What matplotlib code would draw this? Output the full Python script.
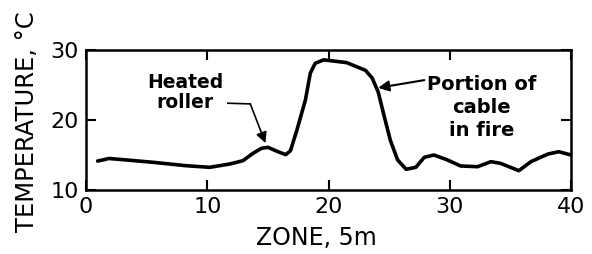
import matplotlib
matplotlib.use("Agg")
import matplotlib.pyplot as plt

zone = [0.96, 1.4, 1.87, 2.75, 5.5, 8.26, 10.2, 11.84, 12.95, 13.77, 14.46, 15.0, 15.84, 16.47, 16.86,
        17.4, 18.1, 18.5, 18.9, 19.6, 21.5, 23.05, 23.6, 24.1, 24.6, 25.1, 25.7, 26.4,
        27.2, 27.9, 28.7, 29.8, 30.9, 32.3, 33.4, 34.2, 35.7, 36.7, 38.1, 39.0, 40.0]
temp = [14.14, 14.3, 14.5, 14.38, 13.96, 13.47, 13.24, 13.71, 14.19, 15.24, 15.95, 16.1, 15.47, 15.05, 15.6,
        18.6, 22.9, 26.7, 28.1, 28.6, 28.2, 27.1, 26.0, 24.0, 20.5, 17.1, 14.3, 12.96,
        13.24, 14.67, 15.0, 14.3, 13.43, 13.33, 14.05, 13.8, 12.76, 14.05, 15.14, 15.47, 15.0]

xticks = [0, 10, 20, 30, 40]
yticks = [10, 20, 30]

plt.rcParams['font.family'] = ['DejaVu Sans']
fig = plt.figure(figsize=(5.92, 2.54), dpi=100)
ax = fig.add_axes([0.1453, 0.252, 0.8192, 0.551])
ax.plot(zone, temp, color='black', lw=2.6, solid_capstyle='round', solid_joinstyle='round')
ax.set_xlim(0, 40)
ax.set_ylim(10, 30)
ax.set_xticks(xticks)
ax.set_yticks(yticks)
ax.tick_params(direction='in', length=7, width=1.5, top=True, right=True, labelsize=16, pad=5)
for s in ax.spines.values():
    s.set_linewidth(1.8)
fig.text(0.534, 0.063, 'ZONE, 5m', fontsize=17, ha='center', va='center')
fig.text(0.045, 0.52, 'TEMPERATURE, °C', fontsize=17.5, rotation=90, ha='center', va='center')

ax.text(8.2, 23.9, 'Heated\nroller', ha='center', va='center', fontsize=13.5, fontweight='bold', linespacing=1.05)
ax.plot([11.7, 13.55], [22.4, 22.3], color='black', lw=1.2)
ax.annotate('', xy=(14.8, 16.7), xytext=(13.55, 22.3),
            arrowprops=dict(arrowstyle='-|>', color='black', lw=1.2, mutation_scale=16, shrinkA=0, shrinkB=0))
ax.text(32.6, 21.8, 'Portion of\ncable\nin fire', ha='center', va='center', fontsize=14, fontweight='bold', linespacing=1.27)
ax.annotate('', xy=(24.1, 24.6), xytext=(27.9, 25.7),
            arrowprops=dict(arrowstyle='-|>', color='black', lw=1.5, mutation_scale=16, shrinkA=0, shrinkB=0))
fig.savefig('out.png', dpi=100)
